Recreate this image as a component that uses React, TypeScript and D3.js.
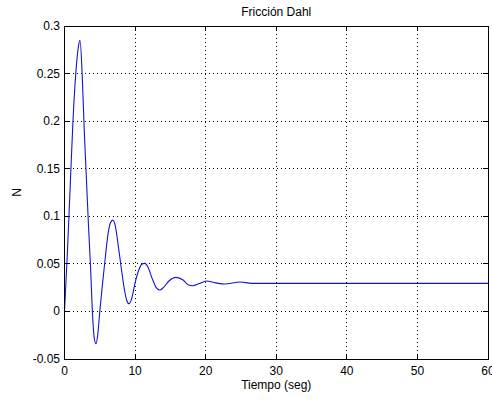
import React from "react";
import * as d3 from "d3";

const W = 492;
const H = 401;

const timeSeg: number[] = [
  0, 0.4, 0.8, 1.2, 1.6, 2.0, 2.2, 2.5, 2.8, 3.1, 3.4, 3.7, 3.95, 4.2, 4.46, 4.7,
  5.0, 5.4, 5.8, 6.2, 6.5, 6.83, 7.2, 7.6, 8.0, 8.4, 8.8, 9.14, 9.5, 10.0, 10.5,
  11.0, 11.4, 11.8, 12.4, 13.0, 13.5, 14.0, 14.8, 15.8, 16.8, 17.5, 18.2, 19.0,
  20.1, 21.4, 22.7, 24.9, 26.5, 30, 40, 50, 60,
];
const friccion: number[] = [
  0, 0.06, 0.13, 0.2, 0.25, 0.28, 0.285, 0.25, 0.19, 0.14, 0.09, 0.045, 0.0,
  -0.027, -0.034, -0.025, 0.0, 0.03, 0.058, 0.083, 0.093, 0.096, 0.09, 0.07,
  0.048, 0.027, 0.012, 0.008, 0.013, 0.03, 0.043, 0.05, 0.0505, 0.047, 0.035,
  0.025, 0.0225, 0.025, 0.032, 0.0358, 0.033, 0.028, 0.027, 0.029, 0.032, 0.03,
  0.0288, 0.031, 0.0295, 0.0295, 0.0295, 0.0295, 0.0295,
];
const xTicks: number[] = [0, 10, 20, 30, 40, 50, 60];
const yTicks: number[] = [-0.05, 0, 0.05, 0.1, 0.15, 0.2, 0.25, 0.3];
const yTickLabels: string[] = ["-0.05", "0", "0.05", "0.1", "0.15", "0.2", "0.25", "0.3"];

const title = "Fricción Dahl";
const xLabel = "Tiempo (seg)";
const yLabel = "N";

export default function App() {
  const left = 64.5, right = 488, top = 26, bottom = 359;
  const x = d3.scaleLinear().domain([0, 60]).range([left, right]);
  const y = d3.scaleLinear().domain([-0.05, 0.3]).range([bottom, top]);
  const pts: [number, number][] = timeSeg.map((t, i) => [t, friccion[i]]);
  const line = d3
    .line<[number, number]>()
    .x((d) => x(d[0]))
    .y((d) => y(d[1]))
    .curve(d3.curveMonotoneX);
  const font = "'Liberation Sans', Arial, sans-serif";
  const tl = 5;
  return (
    <svg
      width={W}
      height={H}
      style={{ position: "absolute", left: 0, top: 0, background: "#fff" }}
      fontFamily={font}
    >
      <rect x={0} y={0} width={W} height={H} fill="#fff" />
      {/* grid */}
      {xTicks.slice(1, -1).map((t) => (
        <line key={"gx" + t} x1={x(t)} x2={x(t)} y1={top} y2={bottom} stroke="#000" strokeWidth={1} strokeDasharray="1,3" shapeRendering="crispEdges" />
      ))}
      {yTicks.slice(1, -1).map((t) => (
        <line key={"gy" + t} x1={left} x2={right} y1={y(t)} y2={y(t)} stroke="#000" strokeWidth={1} strokeDasharray="1,3" shapeRendering="crispEdges" />
      ))}
      {/* ticks */}
      {xTicks.map((t) => (
        <g key={"tx" + t}>
          <line x1={x(t)} x2={x(t)} y1={bottom} y2={bottom - tl} stroke="#000" shapeRendering="crispEdges" />
          <line x1={x(t)} x2={x(t)} y1={top} y2={top + tl} stroke="#000" shapeRendering="crispEdges" />
          <text x={x(t)} y={375} textAnchor="middle" fontSize={12} fill="#000">{t}</text>
        </g>
      ))}
      {yTicks.map((t, i) => (
        <g key={"ty" + t}>
          <line x1={left} x2={left + tl} y1={y(t)} y2={y(t)} stroke="#000" shapeRendering="crispEdges" />
          <line x1={right} x2={right - tl} y1={y(t)} y2={y(t)} stroke="#000" shapeRendering="crispEdges" />
          <text x={60} y={y(t) + 4} textAnchor="end" fontSize={12} fill="#000">{yTickLabels[i]}</text>
        </g>
      ))}
      {/* data */}
      <path d={line(pts) || ""} fill="none" stroke="#1515d0" strokeWidth={1.1} />
      {/* box */}
      <rect x={left} y={top} width={right - left} height={bottom - top} fill="none" stroke="#000" strokeWidth={1} shapeRendering="crispEdges" />
      <text x={(left + right) / 2} y={16} textAnchor="middle" fontSize={12} fill="#000">{title}</text>
      <text x={(left + right) / 2} y={389} textAnchor="middle" fontSize={12} fill="#000">{xLabel}</text>
      <text transform={`translate(21,${(top + bottom) / 2}) rotate(-90)`} textAnchor="middle" fontSize={12} fill="#000">{yLabel}</text>
    </svg>
  );
}
